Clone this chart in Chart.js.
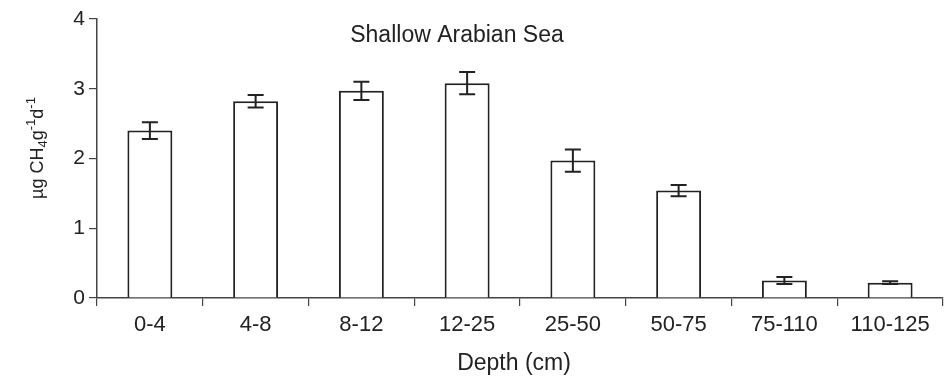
<!DOCTYPE html>
<html><head><meta charset="utf-8">
<script src="https://cdn.jsdelivr.net/npm/chart.js@4/dist/chart.umd.min.js"></script>
<style>html,body{margin:0;padding:0;background:#fff}#w{width:945px;height:381px}</style>
</head><body><div id="w"><canvas id="c" width="945" height="381"></canvas></div>
<script>
const categories = ["0-4","4-8","8-12","12-25","25-50","50-75","75-110","110-125"];
const rates = [2.40, 2.82, 2.97, 3.08, 1.97, 1.54, 0.25, 0.22];
const errors = [0.12, 0.09, 0.13, 0.16, 0.16, 0.08, 0.05, 0.02];
const yTicks = [0,1,2,3,4];
const titleText = "Shallow Arabian Sea";
const xTitle = "Depth (cm)";

const FONT = "Liberation Sans, Arial, sans-serif";
const INK = "#222";

const errPlugin = {
  id: 'err',
  afterDatasetsDraw(chart) {
    const ctx = chart.ctx, meta = chart.getDatasetMeta(0), y = chart.scales.y;
    ctx.save();
    ctx.strokeStyle = INK; ctx.lineWidth = 2;
    meta.data.forEach((bar, i) => {
      const x = bar.x, hi = y.getPixelForValue(rates[i] + errors[i]), lo = y.getPixelForValue(rates[i] - errors[i]);
      ctx.beginPath();
      ctx.moveTo(x, hi); ctx.lineTo(x, lo);
      ctx.moveTo(x - 8, hi); ctx.lineTo(x + 8, hi);
      ctx.moveTo(x - 8, lo); ctx.lineTo(x + 8, lo);
      ctx.stroke();
    });
    ctx.restore();
  },
  afterDraw(chart) {
    const ctx = chart.ctx;
    ctx.save();
    ctx.fillStyle = INK;
    ctx.font = "23px " + FONT;
    ctx.textAlign = "center"; ctx.textBaseline = "middle";
    ctx.fillText(titleText, 457, 36);
    ctx.fillText(xTitle, 514, 364);
    // y axis label with sub/superscripts
    const parts = [["µg CH",0],["4",1],["g",0],["-1",-1],["d",0],["-1",-1]];
    const big = "18px " + FONT, small = "13px " + FONT;
    let total = 0;
    parts.forEach(p => { ctx.font = p[1] ? small : big; total += ctx.measureText(p[0]).width; });
    ctx.translate(43, 148);
    ctx.rotate(-Math.PI/2);
    ctx.textAlign = "left"; ctx.textBaseline = "alphabetic";
    let x = -total/2;
    parts.forEach(p => {
      ctx.font = p[1] ? small : big;
      const dy = p[1] === 1 ? 4 : (p[1] === -1 ? -8 : 0);
      ctx.fillText(p[0], x, dy);
      x += ctx.measureText(p[0]).width;
    });
    ctx.restore();
  }
};

new Chart(document.getElementById('c'), {
  type: 'bar',
  data: { labels: categories, datasets: [{ data: rates, backgroundColor: '#fff', borderColor: INK, borderWidth: 2, barPercentage: 0.425, categoryPercentage: 1.0 }] },
  options: {
    responsive: false, animation: false,
    layout: { padding: { top: 19, right: 2, left: 0, bottom: 0 } },
    plugins: { legend: { display: false }, tooltip: { enabled: false } },
    scales: {
      x: {
        grid: { display: true, drawOnChartArea: false, drawTicks: true, tickLength: 8, color: '#444', lineWidth: 1.2, offset: true },
        border: { display: true, color: '#444', width: 1.5 },
        ticks: { color: INK, font: { size: 22, family: FONT }, padding: 6, maxRotation: 0, autoSkip: false },
        title: { display: false },
        afterFit(s) { s.height = 83; }
      },
      y: {
        min: 0, max: 4,
        afterBuildTicks(s) { s.ticks = yTicks.map(v => ({ value: v })); },
        grid: { display: true, drawOnChartArea: false, drawTicks: true, tickLength: 8, color: '#444', lineWidth: 1.2 },
        border: { display: true, color: '#444', width: 1.5 },
        ticks: { color: INK, font: { size: 21, family: FONT }, padding: 4 },
        afterFit(s) { s.width = 97; }
      }
    }
  },
  plugins: [errPlugin]
});
</script></body></html>
